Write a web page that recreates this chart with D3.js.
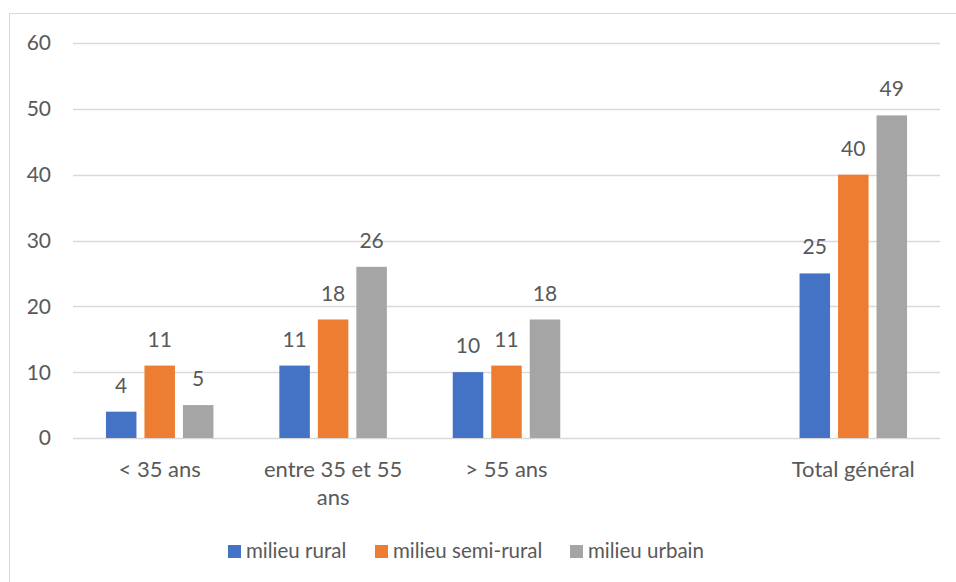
<!DOCTYPE html>
<html><head><meta charset="utf-8">
<script src="https://cdn.jsdelivr.net/npm/d3@7"></script>
<style>body{margin:0;background:#fff}svg{display:block}text{font-family:Lato,"Open Sans",sans-serif;fill:#595959}</style>
</head><body>
<svg id="c" width="956" height="582"></svg>
<script>
const categories = ["< 35 ans", "entre 35 et 55 ans", "> 55 ans", "", "Total général"];
const seriesNames = ["milieu rural", "milieu semi-rural", "milieu urbain"];
const rural = [4, 11, 10, null, 25];
const semiRural = [11, 18, 11, null, 40];
const urbain = [5, 26, 18, null, 49];
const yTicks = [0, 10, 20, 30, 40, 50, 60];
const colors = ["#4472C4", "#ED7D31", "#A5A5A5"];

const values = [rural, semiRural, urbain];
const svg = d3.select("#c");
const fs = 21;

svg.append("rect").attr("x", 9.5).attr("y", 13.5).attr("width", 960).attr("height", 600)
  .attr("fill", "none").attr("stroke", "#d9d9d9");

const x = d3.scaleBand().domain(categories).range([73, 940]).paddingInner(0).paddingOuter(0);
const y = d3.scaleLinear().domain([0, 60]).range([438, 43]);
const groupW = 107.5;
const xs = d3.scaleBand().domain(seriesNames).range([0, groupW]).paddingInner(8 / 38.5).paddingOuter(0);

// grid
svg.append("g").selectAll("line").data(yTicks).join("line")
  .attr("x1", 73).attr("x2", 940)
  .attr("y1", d => Math.round(y(d)) + 0.5).attr("y2", d => Math.round(y(d)) + 0.5)
  .attr("stroke", "#d9d9d9").attr("stroke-width", 1.5);

// y labels
svg.append("g").selectAll("text").data(yTicks).join("text")
  .attr("x", 51).attr("y", d => y(d)).attr("dy", "0.35em")
  .attr("text-anchor", "end").attr("font-size", fs).text(d => d);

// bars
const flat = [];
categories.forEach((c, i) => seriesNames.forEach((s, j) => {
  if (values[j][i] != null) flat.push({c, s, v: values[j][i], j});
}));
const off = (x.bandwidth() - groupW) / 2;
svg.append("g").selectAll("rect").data(flat).join("rect")
  .attr("x", d => x(d.c) + off + xs(d.s))
  .attr("width", xs.bandwidth())
  .attr("y", d => y(d.v)).attr("height", d => y(0) - y(d.v))
  .attr("fill", d => colors[d.j]);

// value labels
svg.append("g").selectAll("text").data(flat).join("text")
  .attr("x", d => x(d.c) + off + xs(d.s) + xs.bandwidth() / 2)
  .attr("y", d => y(d.v) - 19)
  .attr("text-anchor", "middle").attr("font-size", fs).text(d => d.v);

// category labels with wrapping
const catG = svg.append("g");
categories.forEach(c => {
  if (!c) return;
  const t = catG.append("text").attr("text-anchor", "middle").attr("font-size", 22)
    .attr("x", x(c) + x.bandwidth() / 2).attr("y", 477);
  const words = c.split(" ");
  let line = [];
  let ts = t.append("tspan").attr("x", x(c) + x.bandwidth() / 2).attr("dy", 0);
  words.forEach(w => {
    line.push(w);
    ts.text(line.join(" "));
    if (ts.node().getComputedTextLength() > 155 && line.length > 1) {
      line.pop(); ts.text(line.join(" "));
      line = [w];
      ts = t.append("tspan").attr("x", x(c) + x.bandwidth() / 2).attr("dy", 28).text(w);
    }
  });
});

// legend
const legX = [228, 375, 570];
const lg = svg.append("g");
seriesNames.forEach((s, j) => {
  lg.append("rect").attr("x", legX[j]).attr("y", 545).attr("width", 13).attr("height", 13).attr("fill", colors[j]);
  lg.append("text").attr("x", legX[j] + 18).attr("y", 558).attr("font-size", 20.5).text(s);
});
</script>
</body></html>
